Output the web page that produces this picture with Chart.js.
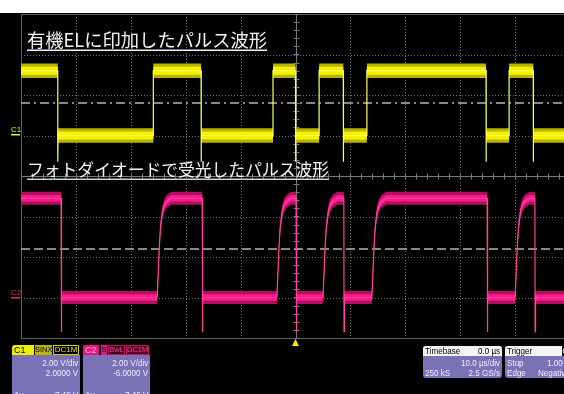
<!DOCTYPE html>
<html>
<head>
<meta charset="utf-8">
<script src="https://cdn.jsdelivr.net/npm/chart.js@4.4.1/dist/chart.umd.min.js"></script>
<style>
  html, body { margin: 0; padding: 0; background: #fff; overflow: hidden; width: 564px; height: 394px; }
  #wrap { position: relative; width: 564px; height: 394px; overflow: hidden; }
  #scope { position: absolute; left: 0; top: 0; }
  .panel { position: absolute; background: #7a72b6; border-radius: 3px; overflow: hidden;
           font-family: "Liberation Sans", Arial, sans-serif; font-size: 9.5px; color: #f0f0ff; }
  .t { position: absolute; line-height: 10px; white-space: nowrap; transform: scaleX(0.85); }
  .r { transform-origin: right center; }
  .l { transform-origin: left center; }
  .box { position: absolute; top: 0; height: 10px; line-height: 10px; font-size: 9px; text-align: center;
         font-family: "Liberation Sans", Arial, sans-serif; box-sizing: border-box; white-space: nowrap; overflow: hidden; }
</style>
</head>
<body>
<div id="wrap">
  <canvas id="scope" width="564" height="394"></canvas>

  <!-- channel 1 descriptor -->
  <div class="panel" style="left:12px;top:345px;width:68px;height:60px;">
    <div class="box" style="left:0;width:68px;background:#000;"></div>
    <div class="box" style="left:0;width:22px;background:#eeee00;color:#000;text-align:left;padding-left:2px;">C1</div>
    <div class="box" style="left:23px;width:17px;background:#b8b400;color:#000;font-size:7.5px;">SINX</div>
    <div class="box" style="left:41px;width:26px;border:1px solid #d6d200;color:#e6e200;font-size:8px;line-height:8px;">DC1M</div>
    <div class="t r" style="right:2px;top:13px;">2.00 V/div</div>
    <div class="t r" style="right:2px;top:23px;">2.0000 V</div>
    <div class="t l" style="left:2px;top:45px;">Δy</div>
    <div class="t r" style="right:2px;top:45px;">7.46 V</div>
  </div>

  <!-- channel 2 descriptor -->
  <div class="panel" style="left:83px;top:345px;width:67px;height:60px;">
    <div class="box" style="left:0;width:67px;background:#000;"></div>
    <div class="box" style="left:0;width:16px;background:#e8157f;color:#ffb0d8;text-align:left;padding-left:2px;">C2</div>
    <div class="box" style="left:18px;width:6px;background:#e8157f;color:#000;font-size:8px;">S</div>
    <div class="box" style="left:25px;width:17px;background:#3a0018;color:#ff3fa0;font-size:7.5px;border:1px solid #c0106a;line-height:8px;">BwL</div>
    <div class="box" style="left:43px;width:23px;background:#5a0424;color:#ff3fa0;font-size:7.5px;border:1px solid #c0106a;line-height:8px;">DC1M</div>
    <div class="t r" style="right:2px;top:13px;">2.00 V/div</div>
    <div class="t r" style="right:2px;top:23px;">-6.0000 V</div>
    <div class="t l" style="left:2px;top:45px;">Δy</div>
    <div class="t r" style="right:2px;top:45px;">7.46 V</div>
  </div>

  <!-- timebase descriptor -->
  <div class="panel" style="left:423px;top:346px;width:79px;height:32px;">
    <div class="box" style="left:0;width:79px;background:#f4f4f4;"></div>
    <div class="t l" style="left:2px;top:0px;color:#000;">Timebase</div>
    <div class="t r" style="right:2px;top:0px;color:#000;">0.0 µs</div>
    <div class="t r" style="right:2px;top:12px;">10.0 µs/div</div>
    <div class="t l" style="left:2px;top:22px;">250 kS</div>
    <div class="t r" style="right:2px;top:22px;">2.5 GS/s</div>
  </div>

  <!-- trigger descriptor -->
  <div class="panel" style="left:505px;top:346px;width:74px;height:32px;">
    <div class="box" style="left:0;width:74px;background:#f4f4f4;"></div>
    <div class="box" style="left:57px;width:12px;background:#000;color:#fff;">C1</div>
    <div class="t l" style="left:2px;top:0px;color:#000;">Trigger</div>
    <div class="t l" style="left:2px;top:12px;">Stop</div>
    <div class="t l" style="left:42px;top:12px;">1.00 V</div>
    <div class="t l" style="left:2px;top:22px;">Edge</div>
    <div class="t l" style="left:33px;top:22px;">Negative</div>
  </div>
</div>

<script>
// ---- horizontal: 10 µs/div, trigger point at 0 ----
const timeDivs = [-50, -40, -30, -20, -10, 0, 10, 20, 30, 40];
const voltDivs = [-4, -3, -2, -1, 0, 1, 2, 3, 4];
const xMin = -50, xMax = 48.9;

// ---- C1: drive pulse applied to the OLED (edge times in µs, first edge falls) ----
const c1Edges = [-43.3, -25.9, -17.2, -4.1, 0.0, 4.3, 8.7, 13.0, 34.7, 38.9, 43.3];
const c1High = 3.2, c1Low = 0.0, c1Undershoot = -1.3;   // V
const c1VoltsPerDiv = 2.0, c1Offset = 2.0;
const c1Threshold = 1.6;

// ---- C2: photodiode response (edge times in µs, first edge falls) ----
const c2Edges = [-42.7, -25.2, -17.0, -3.4, 0.1, 5.0, 8.8, 13.9, 34.9, 40.0, 43.6];
const c2High = 4.9, c2Low = 0.0, c2Undershoot = -1.7;   // V
const c2VoltsPerDiv = 2.0, c2Offset = -6.0;
const c2Threshold = 2.4;
// rising edge of the photodiode: [µs after edge, fraction of full swing]
const c2RiseShape = [[0, 0], [0.2, 0.25], [0.4, 0.52], [0.6, 0.70], [0.9, 0.84], [1.3, 0.93], [1.8, 0.97], [2.6, 1.0]];

// ---- titles ----
const title1 = '有機ELに印加したパルス波形';
const title2 = 'フォトダイオードで受光したパルス波形';

const toDiv = (v, vpd, off) => (v + off) / vpd;

// C1 trace: square wave; optional undershoot spike on falling edges
function c1Path(withSpikes, shift) {
  const H = toDiv(c1High, c1VoltsPerDiv, c1Offset) + shift;
  const L = toDiv(c1Low, c1VoltsPerDiv, c1Offset) + shift;
  const S = toDiv(c1Undershoot, c1VoltsPerDiv, c1Offset);
  const pts = [{ x: xMin, y: H }];
  c1Edges.forEach((t, i) => {
    if (i % 2 === 0) {
      pts.push({ x: t, y: H });
      if (withSpikes) { pts.push({ x: t, y: S }); pts.push({ x: t + 0.06, y: L }); }
      else pts.push({ x: t, y: L });
    } else {
      pts.push({ x: t, y: L }); pts.push({ x: t, y: H });
    }
  });
  pts.push({ x: xMax, y: c1Edges.length % 2 === 0 ? H : L });
  return pts;
}

// C2 trace: sharp fall, slow rise following c2RiseShape
function c2Path(withSpikes, shift) {
  const H = toDiv(c2High, c2VoltsPerDiv, c2Offset) + shift;
  const L = toDiv(c2Low, c2VoltsPerDiv, c2Offset) + shift;
  const S = toDiv(c2Undershoot, c2VoltsPerDiv, c2Offset);
  const pts = [{ x: xMin, y: H }];
  c2Edges.forEach((t, i) => {
    if (i % 2 === 0) {
      pts.push({ x: t, y: H });
      if (withSpikes) { pts.push({ x: t + 0.04, y: S }); pts.push({ x: t + 0.12, y: L }); }
      else pts.push({ x: t, y: L });
    } else {
      c2RiseShape.forEach(([dt, f]) => pts.push({ x: t + dt, y: L + f * (H - L) }));
    }
  });
  pts.push({ x: xMax, y: c2Edges.length % 2 === 0 ? H : L });
  return pts;
}

const band = (data, fill, color, order) => ({
  data, fill, backgroundColor: color, borderColor: 'rgba(0,0,0,0)', borderWidth: 0, pointRadius: 0, order
});
const trace = (data, color, order) => ({
  data, fill: false, borderColor: color, borderWidth: 1.2, pointRadius: 0, order
});
const level = (d, dash) => ({
  data: [{ x: xMin, y: d }, { x: xMax, y: d }], fill: false, borderColor: '#b4b4b4',
  borderWidth: 1.5, borderDash: dash, pointRadius: 0, order: 5
});

// background, graticule and channel markers
const graticule = {
  id: 'graticule',
  beforeDraw(chart) {
    const { ctx, chartArea: a, scales: { x, y } } = chart;
    ctx.save();
    ctx.fillStyle = '#fff'; ctx.fillRect(0, 0, chart.width, 13);
    ctx.fillStyle = '#000'; ctx.fillRect(0, 13, chart.width, chart.height - 13);
    const seg = (x1, y1, x2, y2) => { ctx.beginPath(); ctx.moveTo(x1, y1); ctx.lineTo(x2, y2); ctx.stroke(); };
    ctx.lineWidth = 1;
    ctx.strokeStyle = '#6c6c6c';
    ctx.setLineDash([1, 2]);
    timeDivs.forEach(t => {
      if (t === 0 || t === xMin) return;
      const px = Math.round(x.getPixelForValue(t)) + 0.5;
      seg(px, a.top, px, a.bottom);
    });
    voltDivs.forEach(v => {
      if (v === 0 || Math.abs(v) === 4) return;
      const py = Math.round(y.getPixelForValue(v)) + 0.5;
      seg(a.left, py, a.right, py);
    });
    ctx.setLineDash([]);
    ctx.strokeStyle = '#5e5e5e';
    const top = Math.round(y.getPixelForValue(4)) + 0.5;
    const bot = Math.round(y.getPixelForValue(-4)) + 0.5;
    const left = Math.round(x.getPixelForValue(xMin)) + 0.5;
    seg(a.left, top, a.right, top);
    seg(a.left, bot, a.right, bot);
    seg(left, a.top, left, a.bottom);
    // centre axes with minor ticks
    const cx = Math.round(x.getPixelForValue(0)) + 0.5;
    const cy = Math.round(y.getPixelForValue(0)) + 0.5;
    ctx.strokeStyle = '#7a7a7a';
    seg(cx, a.top, cx, a.bottom);
    seg(a.left, cy, a.right, cy);
    for (let v = -4; v <= 4.001; v += 0.2) {
      const py = Math.round(y.getPixelForValue(v)) + 0.5;
      seg(cx - 3, py, cx + 3, py);
    }
    for (let t = -50; t <= xMax; t += 2) {
      const px = Math.round(x.getPixelForValue(t)) + 0.5;
      seg(px, cy - 3, px, cy + 3);
    }
    ctx.restore();
  },
  afterDraw(chart) {
    const { ctx, scales: { x, y } } = chart;
    ctx.save();
    ctx.textAlign = 'left';
    ctx.textBaseline = 'alphabetic';
    // channel ground markers
    const m1 = y.getPixelForValue(toDiv(0, c1VoltsPerDiv, c1Offset));
    const m2 = y.getPixelForValue(toDiv(0, c2VoltsPerDiv, c2Offset));
    ctx.font = '8px "Liberation Sans", Arial, sans-serif';
    ctx.fillStyle = '#f0f000'; ctx.fillText('C1', 11, m1 - 4);
    ctx.fillRect(11, Math.round(m1) - 2, 9, 1.5);
    ctx.fillStyle = '#ff2090'; ctx.fillText('C2', 11, m2 - 3);
    ctx.fillRect(11, Math.round(m2) - 1, 9, 1.5);
    // trigger position marker
    const tx = x.getPixelForValue(0);
    ctx.fillStyle = '#f4f000';
    ctx.beginPath(); ctx.moveTo(tx, 339); ctx.lineTo(tx - 3.5, 346); ctx.lineTo(tx + 3.5, 346); ctx.closePath(); ctx.fill();
    // titles
    ctx.fillStyle = '#f4f4f4';
    ctx.font = '18.3px "Noto Sans CJK JP"';
    ctx.fillText(title1, 27, 47);
    let w = ctx.measureText(title1).width;
    ctx.fillRect(27, 49.5, w, 1.5);
    ctx.font = '16.8px "Noto Sans CJK JP"';
    ctx.fillText(title2, 27, 176);
    w = ctx.measureText(title2).width;
    ctx.fillStyle = '#d0d0d0';
    ctx.fillRect(27, 178.5, w, 1.5);
    ctx.restore();
  }
};

const YEL_OUT = '#b8b400', YEL_IN = '#f4f200', YEL_CORE = '#ffff50';
const PNK_OUT = '#b0105c', PNK_IN = '#ff1a8c', PNK_CORE = '#ff40a0';

new Chart(document.getElementById('scope'), {
  type: 'line',
  data: {
    datasets: [
      band(c1Path(false, -0.18), false, YEL_OUT, 3),
      band(c1Path(false, 0.18), 0, YEL_OUT, 3),
      band(c1Path(false, -0.1), false, YEL_IN, 2),
      band(c1Path(false, 0.1), 2, YEL_IN, 2),
      trace(c1Path(true, 0), YEL_CORE, 1),
      band(c2Path(false, -0.16), false, PNK_OUT, 3),
      band(c2Path(false, 0.16), 5, PNK_OUT, 3),
      band(c2Path(false, -0.08), false, PNK_IN, 2),
      band(c2Path(false, 0.08), 7, PNK_IN, 2),
      trace(c2Path(true, 0), PNK_CORE, 1),
      level(toDiv(c1Threshold, c1VoltsPerDiv, c1Offset), [9, 4, 2, 4]),
      level(toDiv(c2Threshold, c2VoltsPerDiv, c2Offset), [9, 4])
    ]
  },
  options: {
    responsive: false,
    animation: false,
    devicePixelRatio: 1,
    layout: { padding: { left: 21, top: 14, right: 0, bottom: 56 } },
    elements: { line: { tension: 0 } },
    scales: {
      x: { type: 'linear', min: xMin, max: xMax, display: false },
      y: { type: 'linear', min: -4, max: 4, display: false }
    },
    plugins: { legend: { display: false }, tooltip: { enabled: false }, title: { display: false } }
  },
  plugins: [graticule]
});
</script>
</body>
</html>
